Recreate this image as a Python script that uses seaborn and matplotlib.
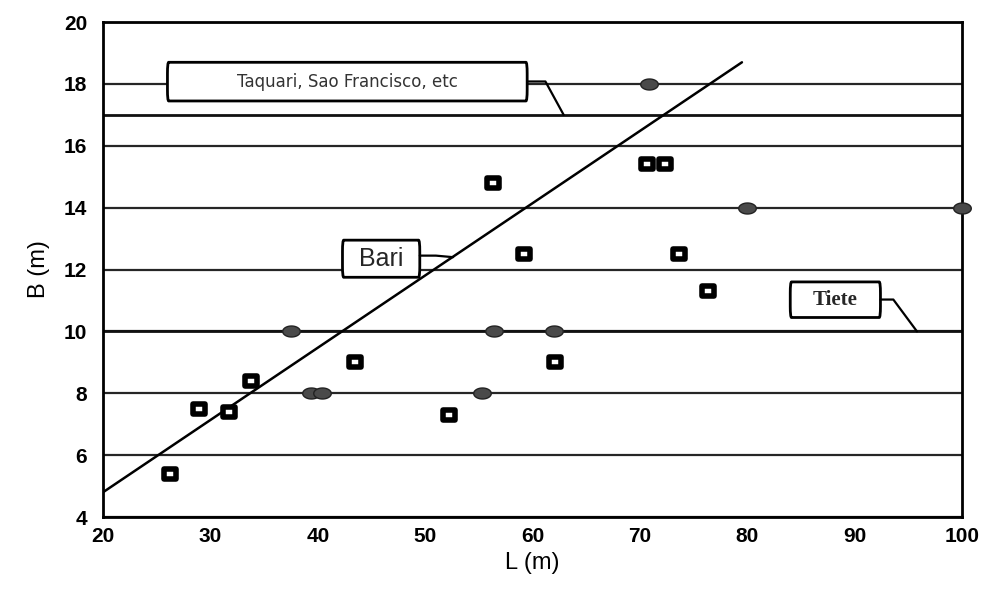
import numpy as np
import pandas as pd
import seaborn as sns
import matplotlib.pyplot as plt
from matplotlib.path import Path
from matplotlib.patches import FancyBboxPatch

# ---- data ----
open_L = [26.2, 28.9, 31.7, 33.8, 43.5, 52.2, 62.1, 56.3, 59.2, 70.7, 72.3, 73.6, 76.3]
open_B = [5.4, 7.5, 7.4, 8.4, 9.0, 7.3, 9.0, 14.8, 12.5, 15.4, 15.4, 12.5, 11.3]

filled_L = [70.8, 80.0, 100.0, 37.5, 56.4, 62.0, 39.4, 40.4, 55.3]
filled_B = [18.0, 14.0, 14.0, 10.0, 10.0, 10.0, 8.0, 8.0, 8.0]

bari_L = [20.0, 79.5]
bari_B = [4.8, 18.7]

taquari_B = 17.0
tiete_B = 10.0

x_ticks = [20, 30, 40, 50, 60, 70, 80, 90, 100]
y_ticks = [4, 6, 8, 10, 12, 14, 16, 18, 20]

labels = ["Taquari, Sao Francisco, etc", "Bari", "Tiete"]

df_open = pd.DataFrame({"L": open_L, "B": open_B})
df_fill = pd.DataFrame({"L": filled_L, "B": filled_B})
df_line = pd.DataFrame({"L": bari_L, "B": bari_B})

sns.set_theme(style="white")
plt.rcParams['font.family'] = ['Liberation Sans', 'DejaVu Sans']

fig = plt.figure(figsize=(9.83, 5.97), dpi=100)
ax = fig.add_axes([0.1048, 0.134, 0.8739, 0.829])

ax.set_xlim(20, 100)
ax.set_ylim(4, 20)
ax.set_xticks(x_ticks)
ax.set_yticks(y_ticks)
ax.yaxis.grid(True, color='#262626', lw=1.6, zorder=0)
ax.xaxis.grid(False)
ax.set_axisbelow(True)

# reference lines
ax.axhline(taquari_B, color='#111111', lw=2.0, zorder=1)
ax.axhline(tiete_B, color='#111111', lw=2.0, zorder=1)
sns.lineplot(data=df_line, x="L", y="B", color='black', lw=1.8, ax=ax, zorder=2)

# markers
t = np.linspace(0, 2 * np.pi, 40)
ellipse = Path(np.column_stack([1.6 * np.cos(t), np.sin(t)]), closed=True)
rect = Path([(-1.3, -1), (1.3, -1), (1.3, 1), (-1.3, 1), (-1.3, -1)], closed=True)

sns.scatterplot(data=df_fill, x="L", y="B", marker=ellipse, s=160,
                color='#4a4a4a', edgecolor='#222222', linewidth=1.0,
                ax=ax, zorder=4, clip_on=False)
sns.scatterplot(data=df_open, x="L", y="B", marker=rect, s=85,
                facecolor='white', edgecolor='black', linewidth=4.0,
                ax=ax, zorder=4)

# annotation boxes
def box(x0, x1, y0, y1, text, **kw):
    ax.add_patch(FancyBboxPatch((x0, y0), x1 - x0, y1 - y0,
                                boxstyle='round,pad=0,rounding_size=0.12',
                                mutation_aspect=3.0,
                                facecolor='white', edgecolor='black',
                                lw=2.0, zorder=5))
    ax.text((x0 + x1) / 2, (y0 + y1) / 2, text, ha='center', va='center',
            zorder=6, **kw)

box(26.0, 59.5, 17.45, 18.7, labels[0], fontsize=12, family=['DejaVu Sans'],
    color='#333333')
ax.plot([59.5, 61.2, 62.9], [18.08, 18.08, 17.0], color='black', lw=1.6, zorder=5)

box(42.3, 49.5, 11.75, 12.95, labels[1], fontsize=18)
ax.plot([49.5, 51.0, 52.6], [12.45, 12.45, 12.4], color='black', lw=1.6, zorder=5)

box(84.0, 92.4, 10.45, 11.6, labels[2], fontsize=15, fontweight='bold',
    family=['Liberation Serif', 'DejaVu Serif'])
ax.plot([92.4, 93.6, 95.8], [11.03, 11.03, 10.0], color='black', lw=1.6, zorder=5)

# spines and ticks
for sp in ax.spines.values():
    sp.set_color('black')
    sp.set_linewidth(2.0)
ax.tick_params(axis='both', direction='inout', length=7, width=1.5, color='black')
ax.tick_params(axis='x', pad=4)
ax.tick_params(axis='y', pad=8)
for lab in ax.get_xticklabels() + ax.get_yticklabels():
    lab.set_fontweight('bold')
    lab.set_fontsize(15)
    lab.set_family(['Liberation Sans', 'DejaVu Sans'])
    lab.set_color('black')

ax.set_xlabel("L (m)", fontsize=17, color='black', labelpad=4)
ax.set_ylabel("B (m)", fontsize=17, color='black', labelpad=10)

fig.savefig("out.png", dpi=100)
